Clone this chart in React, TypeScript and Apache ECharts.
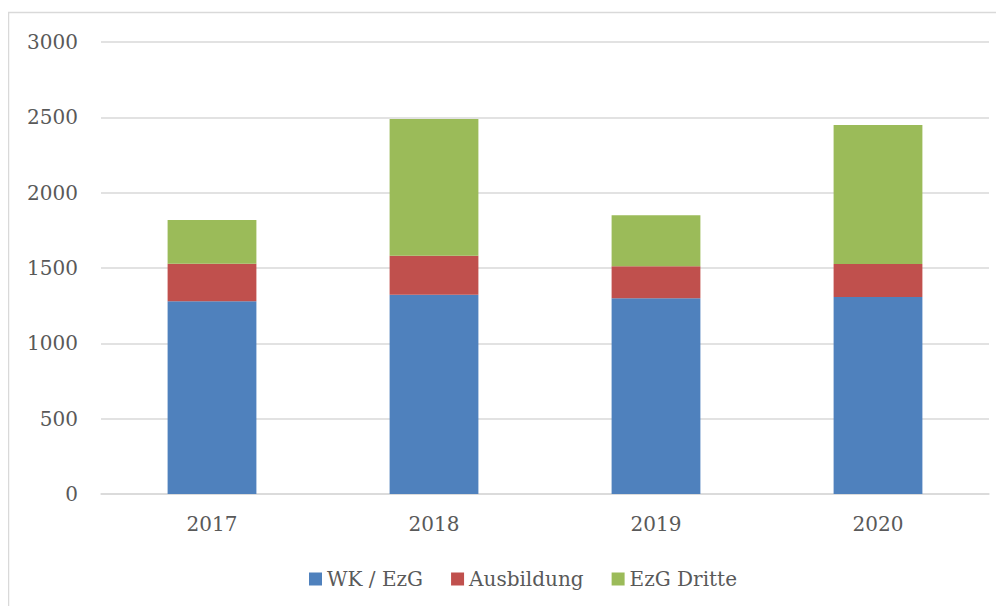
import React, { useEffect, useRef } from "react";
import * as echarts from "echarts";

const categories = ["2017", "2018", "2019", "2020"];
const wkEzg = [1280, 1323, 1299, 1307];
const ausbildung = [248, 259, 212, 220];
const ezgDritte = [291, 907, 339, 922];
const yTicks = { min: 0, max: 3000, interval: 500 };

const FONT = "DejaVu Serif";
const TEXT = "#595959";

export default function App() {
  const ref = useRef<HTMLDivElement>(null);
  useEffect(() => {
    if (!ref.current) return;
    const chart = echarts.init(ref.current, undefined, { renderer: "svg" });
    const mk = (name: string, data: number[], color: string) => ({
      name,
      type: "bar",
      stack: "total",
      data,
      barWidth: "40%",
      itemStyle: { color },
      emphasis: { disabled: true },
    });
    chart.setOption({
      animation: false,
      textStyle: { fontFamily: FONT },
      graphic: [
        {
          type: "rect",
          shape: { x: 0.5, y: 4.5, width: 1200, height: 800 },
          style: { fill: "none", stroke: "#d9d9d9", lineWidth: 1.5 },
          silent: true,
        },
      ],
      grid: { left: 93, right: 15, top: 34, bottom: 112 },
      legend: {
        top: 556,
        left: 296,
        itemWidth: 13,
        itemHeight: 13,
        itemGap: 28,
        icon: "rect",
        textStyle: { fontFamily: FONT, fontSize: 20, color: TEXT },
        data: ["WK / EzG", "Ausbildung", "EzG Dritte"],
      },
      xAxis: {
        type: "category",
        data: categories,
        axisLine: { lineStyle: { color: "#d9d9d9", width: 1.5 } },
        axisTick: { show: false },
        axisLabel: { fontFamily: FONT, fontSize: 20, color: TEXT, margin: 20 },
      },
      yAxis: {
        type: "value",
        min: yTicks.min,
        max: yTicks.max,
        interval: yTicks.interval,
        axisLine: { show: false },
        axisTick: { show: false },
        splitLine: { lineStyle: { color: "#d9d9d9", width: 1.5 } },
        axisLabel: {
          fontFamily: FONT,
          fontSize: 20,
          color: TEXT,
          margin: 23,
          formatter: (v: number) => String(v),
        },
      },
      series: [
        mk("WK / EzG", wkEzg, "#4F81BD"),
        mk("Ausbildung", ausbildung, "#C0504D"),
        mk("EzG Dritte", ezgDritte, "#9BBB59"),
      ],
    });
    return () => chart.dispose();
  }, []);
  return <div ref={ref} style={{ width: 996, height: 598 }} />;
}
